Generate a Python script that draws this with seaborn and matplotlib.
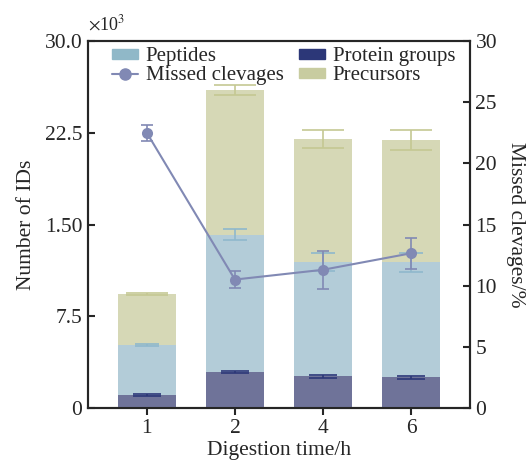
import matplotlib
matplotlib.use('Agg')
import matplotlib.pyplot as plt
import seaborn as sns
import pandas as pd
from matplotlib.patches import Patch
from matplotlib.lines import Line2D

times = ['1', '2', '4', '6']
precursors = [9.32, 26.0, 22.0, 21.9]
precursors_err = [0.08, 0.4, 0.75, 0.8]
peptides = [5.12, 14.15, 11.94, 11.9]
peptides_err = [0.08, 0.45, 0.7, 0.8]
protein_groups = [1.06, 2.94, 2.59, 2.51]
protein_err = [0.05, 0.05, 0.12, 0.12]
missed = [22.5, 10.5, 11.3, 12.65]
missed_err = [0.67, 0.67, 1.55, 1.25]

df = pd.DataFrame({'time': times, 'Precursors': precursors, 'Peptides': peptides,
                   'Protein groups': protein_groups, 'Missed': missed})

sns.set_style('ticks')
plt.rcParams['font.family'] = ['Liberation Serif', 'DejaVu Serif']
plt.rcParams['mathtext.fontset'] = 'stix'
plt.rcParams['font.size'] = 15.5

fig = plt.figure(figsize=(5.28, 4.69), dpi=100)
ax = fig.add_axes([0.1667, 0.130, 0.7233, 0.7826])

sns.barplot(data=df, x='time', y='Precursors', color='#D6D8B6', width=0.66, saturation=1, linewidth=0, ax=ax, zorder=1)
sns.barplot(data=df, x='time', y='Peptides', color='#B3CCD8', width=0.66, saturation=1, linewidth=0, ax=ax, zorder=2)
sns.barplot(data=df, x='time', y='Protein groups', color='#6F7399', width=0.66, saturation=1, linewidth=0, ax=ax, zorder=3)

xs = range(len(times))
ax.errorbar(xs, precursors, yerr=precursors_err, fmt='none', ecolor='#C5C893', capsize=15, elinewidth=1.2, capthick=1.2, zorder=4)
ax.errorbar(xs, peptides, yerr=peptides_err, fmt='none', ecolor='#8FB8CC', capsize=8.5, elinewidth=1.2, capthick=1.2, zorder=4)
ax.errorbar(xs, protein_groups, yerr=protein_err, fmt='none', ecolor='#2C3778', capsize=10, elinewidth=1.2, capthick=1.2, zorder=4)

ax.set_xlim(-0.667, 3.667)
ax.set_ylim(0, 30)
ax.set_yticks([0, 7.5, 15, 22.5, 30])
ax.set_yticklabels(['0', '7.5', '1.50', '22.5', '30.0'])
ax.set_xlabel('Digestion time/h', labelpad=2)
ax.set_ylabel('Number of IDs', labelpad=6)
ax.tick_params(axis='y', direction='in', length=5, width=1.5, pad=4)
ax.tick_params(axis='x', direction='out', length=5, width=1.5, pad=3)
for s in ax.spines.values():
    s.set_linewidth(1.5)
ax.text(0.0, 1.02, r'$\times$10$^3$', transform=ax.transAxes, fontsize=13, va='bottom', ha='left')

ax2 = ax.twinx()
ax2.errorbar(xs, missed, yerr=missed_err, fmt='none', ecolor='#8189B4', capsize=4, elinewidth=1.2, capthick=1.2, zorder=5)
sns.lineplot(x=list(xs), y=missed, ax=ax2, color='#8189B4', marker='o', markersize=8,
             markeredgewidth=0, linewidth=1.5, zorder=6)
ax2.set_ylim(0, 30)
ax2.set_yticks([0, 5, 10, 15, 20, 25, 30])
ax2.set_ylabel('Missed clevages/%', rotation=270, labelpad=20)
ax2.tick_params(axis='y', direction='in', length=5, width=1.5, pad=4)
for s in ax2.spines.values():
    s.set_linewidth(1.5)
ax2.set_xlim(-0.667, 3.667)

handles = [Patch(color='#90B8C8'), Line2D([], [], color='#8189B4', marker='o', markersize=8, linewidth=1.5),
           Patch(color='#2C3778'), Patch(color='#C8CCA0')]
labels = ['Peptides', 'Missed clevages', 'Protein groups', 'Precursors']
ax2.legend(handles, labels, ncol=2, loc='upper left', bbox_to_anchor=(0.042, 1.005), borderaxespad=0,
           frameon=False, handlelength=1.25, handleheight=0.35, columnspacing=0.75, labelspacing=0.0,
           handletextpad=0.35, fontsize=15)

fig.savefig('out.png', dpi=100)
